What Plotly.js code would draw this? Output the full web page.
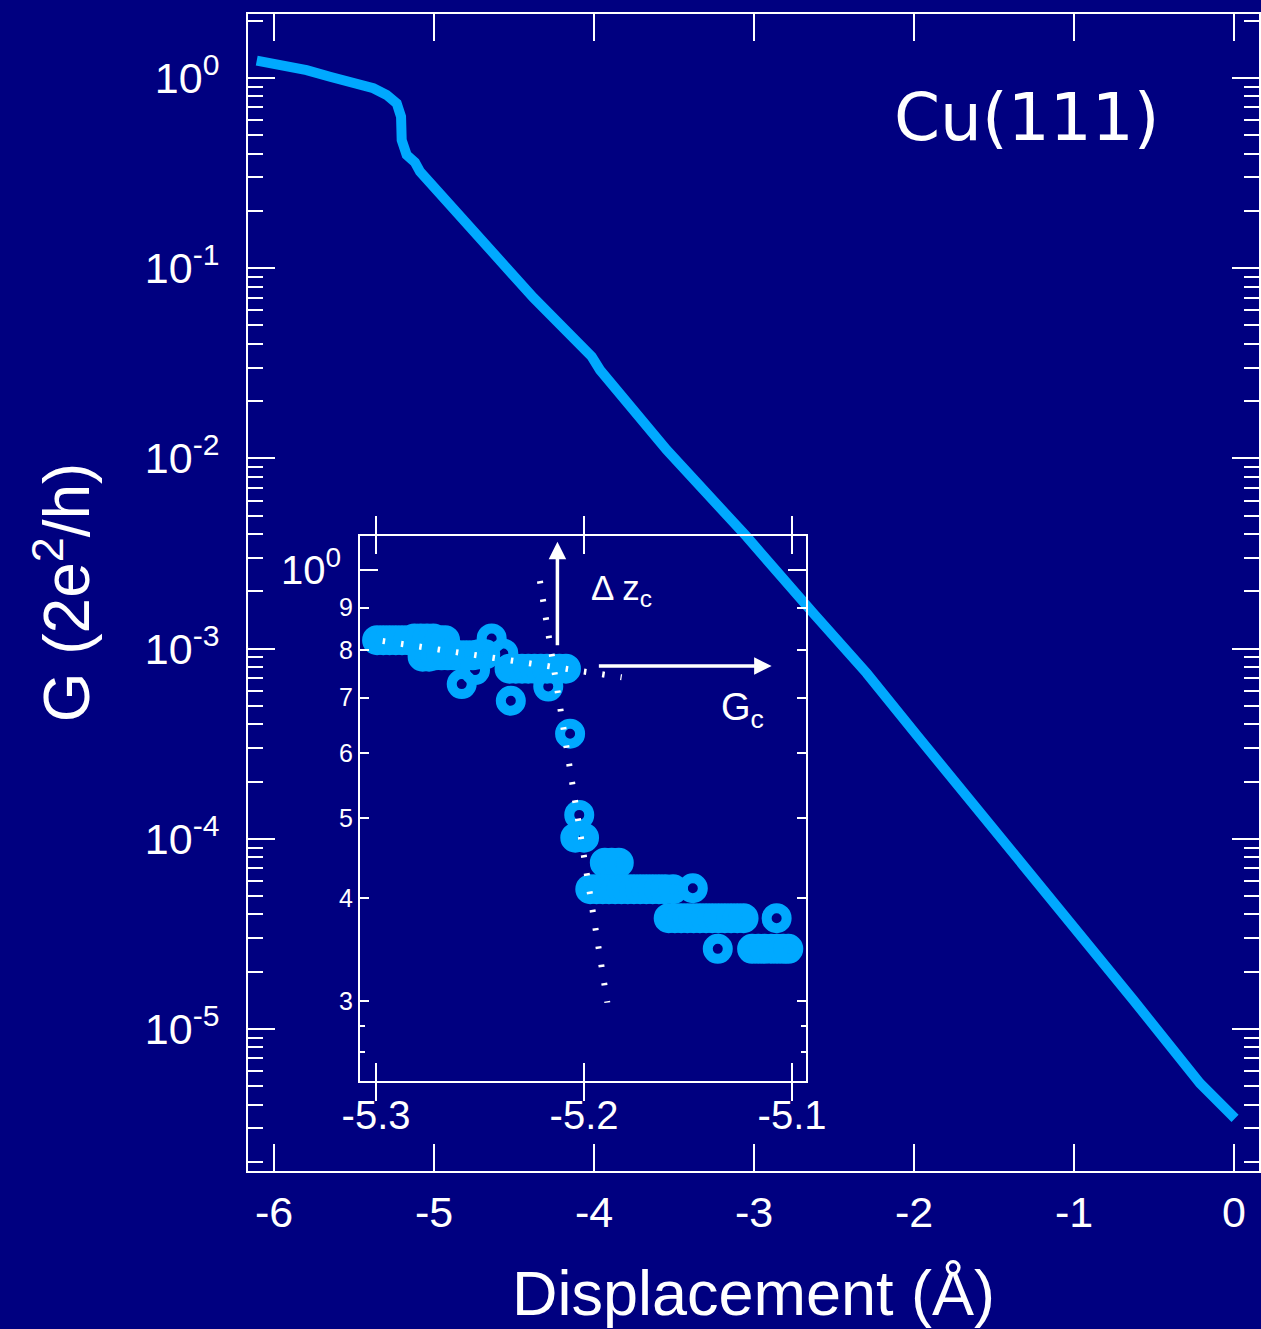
<!DOCTYPE html>
<html><head><meta charset="utf-8">
<script src="https://cdn.plot.ly/plotly-3.0.1.min.js"></script>
<style>html,body{margin:0;padding:0;background:#000080;}</style>
</head><body><div id="chart" style="width:1261px;height:1329px;"></div>
<script>
// ---- main curve ----
const mainX = [-6.108,-5.942,-5.796,-5.650,-5.504,-5.379,-5.296,-5.233,-5.206,-5.202,-5.171,-5.119,-5.0875,-4.7956,-4.3794,-4.0144,-3.9625,-3.5456,-3.0456,-2.6294,-2.2956,-1.9831,-1.4625,-1.0456,-0.6294,-0.2125,0.00625];
const mainG = [1.233,1.17,1.10,1.016,0.938,0.883,0.814,0.736,0.626,0.472,0.394,0.360,0.3217,0.1687,0.0701,0.0343,0.02916,0.01107,0.003876,0.001533,7.42e-4,3.51e-4,1.035e-4,3.74e-5,1.42e-5,5.18e-6,3.39e-6];

// ---- inset circles ----
const insetX = [
 -5.2995,-5.2965,-5.2935,-5.2905,-5.2875,-5.2845,-5.2815,-5.2785,-5.2755,-5.2725,-5.2695,-5.2668,
 -5.2776,-5.2745,-5.2715,-5.2685,-5.2655,-5.2625,-5.2595,-5.2565,-5.2535,-5.2505,-5.2475,
 -5.2444,-5.2524,-5.2388,-5.2588,-5.2352,
 -5.2358,-5.2328,-5.2298,-5.2268,-5.2238,-5.2208,-5.2178,-5.2148,-5.2118,-5.2087,
 -5.2172,-5.2067,-5.2023,-5.2042,-5.2000,
 -5.1900,-5.1867,-5.1833,
 -5.1970,-5.1940,-5.1910,-5.1880,-5.1850,-5.1820,-5.1790,-5.1760,-5.1730,-5.1700,-5.1670,-5.1640,-5.1610,-5.1572,-5.1477,
 -5.1593,-5.1563,-5.1533,-5.1503,-5.1473,-5.1443,-5.1413,-5.1383,-5.1353,-5.1323,-5.1293,-5.1263,-5.1233,-5.1074,
 -5.1357,
 -5.1192,-5.1162,-5.1132,-5.1102,-5.1072,-5.1042,-5.1018];
const insetG = [
 0.822,0.822,0.822,0.822,0.822,0.822,0.826,0.826,0.826,0.826,0.822,0.822,
 0.785,0.785,0.788,0.788,0.788,0.788,0.788,0.788,0.788,0.790,0.790,
 0.826,0.756,0.792,0.727,0.694,
 0.759,0.759,0.759,0.759,0.759,0.759,0.759,0.759,0.759,0.759,
 0.722,0.633,0.5045,0.4734,0.4734,
 0.4415,0.4415,0.4415,
 0.410,0.410,0.410,0.410,0.410,0.410,0.410,0.410,0.410,0.410,0.410,0.410,0.410,0.410,0.411,
 0.378,0.378,0.378,0.378,0.378,0.378,0.378,0.378,0.378,0.378,0.378,0.378,0.378,0.378,
 0.347,
 0.347,0.347,0.347,0.347,0.347,0.347,0.347];

// ---- fit lines in inset ----
const fitTunX = [-5.2212, -5.1888];
const fitTunG = [0.9697, 0.2986];
const fitConX = [-5.2968, -5.1819];
const fitConG = [0.820, 0.741];

// ---- tick labels ----
const mainXTicks = [-6,-5,-4,-3,-2,-1,0];
const mainYTicks = [1,0.1,0.01,0.001,0.0001,0.00001];
const mainYText = ['10<sup>0</sup>','10<sup>-1</sup>','10<sup>-2</sup>','10<sup>-3</sup>','10<sup>-4</sup>','10<sup>-5</sup>'];
const insetXTicks = [-5.3,-5.2,-5.1];
const insetXText = ['-5.3','-5.2','-5.1'];
const insetYTicks = [0.9,0.8,0.7,0.6,0.5,0.4,0.3];
const insetYText = ['9','8','7','6','5','4','3'];

const minorMain = [];
for (let e = 0; e >= -6; e--) for (let m = 2; m <= 9; m++) minorMain.push(m * Math.pow(10, e));

const WHITE = '#ffffff', NAVY = '#000080', BLUE = '#00a9ff';
const ARIAL = 'Liberation Sans, Arial, sans-serif';

const traces = [
  {x: mainX, y: mainG, xaxis:'x', yaxis:'y', mode:'lines', line:{color:BLUE, width:10}, hoverinfo:'skip'},
  {x: insetX, y: insetG, xaxis:'x2', yaxis:'y2', mode:'markers', cliponaxis:false,
   marker:{symbol:'circle-open', size:20, color:BLUE, line:{width:10, color:BLUE}}},
  {x: fitTunX, y: fitTunG, xaxis:'x2', yaxis:'y2', mode:'lines', line:{color:WHITE, width:6, dash:'2.5px,16px'}},
  {x: fitConX, y: fitConG, xaxis:'x2', yaxis:'y2', mode:'lines', line:{color:WHITE, width:6, dash:'2.5px,16px'}},
  {x: [], y: [], xaxis:'x2', yaxis:'y3', mode:'markers'}
];

const layout = {
  width:1261, height:1329,
  paper_bgcolor: NAVY, plot_bgcolor:'rgba(0,0,0,0)',
  margin:{l:248, r:2, t:14, b:158},
  showlegend:false,
  font:{family:ARIAL, color:WHITE},
  xaxis:{
    range:[-6.1625,0.156], tickmode:'array', tickvals:mainXTicks, ticktext:mainXTicks.map(String),
    ticks:'inside', ticklen:27, tickwidth:2, tickcolor:WHITE, mirror:'allticks',
    showline:true, linewidth:2, linecolor:WHITE, showgrid:false, zeroline:false,
    tickfont:{size:43, color:WHITE}, ticklabelstandoff:2,
    title:{text:'Displacement (Å)', font:{size:63, color:WHITE}, standoff:36}
  },
  yaxis:{
    type:'log', range:[-5.7466,0.3365], tickmode:'array', tickvals:mainYTicks, ticktext:mainYText,
    ticks:'inside', ticklen:27, tickwidth:2, tickcolor:WHITE, mirror:'allticks',
    minor:{tickmode:'array', tickvals:minorMain, ticks:'inside', ticklen:15, tickwidth:2, tickcolor:WHITE, showgrid:false},
    showline:true, linewidth:2, linecolor:WHITE, showgrid:false, zeroline:false,
    tickfont:{size:43, color:WHITE}, ticklabelstandoff:18,
    title:{text:'G (2e<sup>2</sup>/h)', font:{size:64, color:WHITE}, standoff:34}
  },
  xaxis2:{
    domain:[0.1108,0.5519], anchor:'y2', range:[-5.3077,-5.0933],
    tickmode:'array', tickvals:insetXTicks, ticktext:insetXText,
    ticks:'inside', ticklen:18, tickwidth:2, tickcolor:WHITE, mirror:'allticks',
    showline:true, linewidth:2, linecolor:WHITE, showgrid:false, zeroline:false,
    tickfont:{size:40, color:WHITE}, ticklabelstandoff:-2
  },
  yaxis2:{
    domain:[0.0778,0.5488], anchor:'x2', type:'log', range:[-0.620,0.0412],
    tickmode:'array', tickvals:insetYTicks, ticktext:insetYText,
    ticks:'inside', ticklen:9, tickwidth:2, tickcolor:WHITE, mirror:'allticks',
    minor:{tickmode:'array', tickvals:[0.28,0.26], ticks:'inside', ticklen:5, tickwidth:2, tickcolor:WHITE, showgrid:false},
    showline:true, linewidth:2, linecolor:WHITE, showgrid:false, zeroline:false,
    tickfont:{size:25, color:WHITE}, ticklabelstandoff:0
  },
  yaxis3:{
    overlaying:'y2', anchor:'x2', side:'left', type:'log', range:[-0.620,0.0412],
    tickmode:'array', tickvals:[1], ticktext:['10<sup>0</sup>'],
    ticks:'inside', ticklen:18, tickwidth:2, tickcolor:WHITE, mirror:'allticks',
    showline:false, showgrid:false, zeroline:false,
    tickfont:{size:40, color:WHITE}, ticklabelstandoff:18
  },
  annotations:[
    {xref:'x', yref:'y', x:-1.294, y:-0.21, text:'Cu(111)', showarrow:false, xanchor:'center', yanchor:'middle',
     font:{family:'DejaVu Sans, Verdana, sans-serif', size:66, color:WHITE}},
    {xref:'x2', yref:'y2', x:-5.1975, y:-0.0243, text:'Δ z<sub>c</sub>', showarrow:false, xanchor:'left', yanchor:'middle',
     font:{size:35, color:WHITE}},
    {xref:'x2', yref:'y2', x:-5.1350, y:-0.170, text:'G<sub>c</sub>', showarrow:false, xanchor:'left', yanchor:'middle',
     font:{size:38, color:WHITE}},
    {xref:'x2', yref:'y2', axref:'x2', ayref:'y2', x:-5.2128, y:0.0343, ax:-5.2128, ay:-0.093, text:'',
     showarrow:true, arrowhead:2, arrowsize:1, arrowwidth:3.5, arrowcolor:WHITE},
    {xref:'x2', yref:'y2', axref:'x2', ayref:'y2', x:-5.1098, y:-0.1165, ax:-5.1936, ay:-0.1165, text:'',
     showarrow:true, arrowhead:2, arrowsize:1, arrowwidth:3.5, arrowcolor:WHITE}
  ]
};

Plotly.newPlot('chart', traces, layout, {displayModeBar:false, staticPlot:true});
</script></body></html>
